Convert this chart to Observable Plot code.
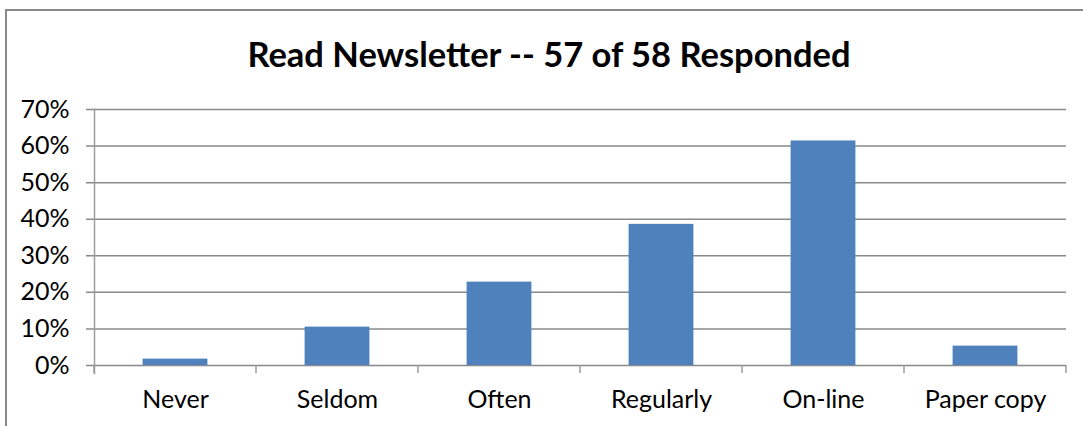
<!DOCTYPE html>
<html><head><meta charset="utf-8">
<script src="https://cdn.jsdelivr.net/npm/d3@7"></script>
<script src="https://cdn.jsdelivr.net/npm/@observablehq/plot@0.6"></script>
<style>
body{margin:0;background:#fff;font-family:Lato, sans-serif;}
#wrap{position:relative;width:1083px;height:426px;overflow:hidden;}
#border{position:absolute;left:5px;top:9px;width:1076px;height:430px;border-left:2px solid #888;border-top:2px solid #888;}
#title{position:absolute;left:0;width:1098px;top:33px;text-align:center;font-weight:bold;font-size:34.5px;line-height:1.2;color:#000;}
#chart{position:absolute;left:0;top:0;}
</style>
</head><body>
<div id="wrap"><div id="border"></div><div id="title">Read Newsletter -- 57 of 58 Responded</div><div id="chart"></div></div>
<script>
const categories = ["Never", "Seldom", "Often", "Regularly", "On-line", "Paper copy"];
const shares = [0.0175, 0.105, 0.228, 0.386, 0.614, 0.053];
const yTicks = [0, 0.1, 0.2, 0.3, 0.4, 0.5, 0.6, 0.7];

const data = categories.map((c, i) => ({category: c, share: shares[i]}));

const boundaryTicks = (index, scales, values, dim) => {
  const x = scales.x;
  const sx = scales.scales ? scales.scales.x : null;
  const step = typeof x.step === "function" ? x.step() : sx.step;
  const bw = typeof x.bandwidth === "function" ? x.bandwidth() : sx.bandwidth;
  const gap = (step - bw) / 2;
  const bounds = categories.map(c => x(c) - gap);
  bounds.push(x(categories[categories.length - 1]) + bw + gap);
  const y0 = dim.height - dim.marginBottom;
  const g = d3.create("svg:g").attr("stroke", "#9d9d9d").attr("stroke-width", 1.5);
  for (const b of bounds) g.append("line").attr("x1", b).attr("x2", b).attr("y1", y0).attr("y2", y0 + 8);
  return g.node();
};

const plot = Plot.plot({
  width: 1083, height: 426,
  marginTop: 109, marginBottom: 61, marginLeft: 94, marginRight: 17,
  style: {fontFamily: "Lato, sans-serif", fontSize: "25px", color: "#000", background: "transparent"},
  x: {domain: categories, paddingInner: 0.6, paddingOuter: 0.3, round: false, label: null},
  y: {domain: [0, 0.7], label: null},
  marks: [
    Plot.ruleY(yTicks, {y: d => d, stroke: "#898989", strokeWidth: 1.5, insetLeft: -8}),
    Plot.barY(data, {x: "category", y: "share", fill: "#4F81BD"}),
    Plot.frame({anchor: "left", stroke: "#9d9d9d", strokeWidth: 1.5, insetBottom: -8}),
    boundaryTicks,
    Plot.axisY(yTicks, {tickSize: 0, tickPadding: 25, tickFormat: d => Math.round(d * 100) + "%", fill: "#000"}),
    Plot.axisX({tickSize: 0, tickPadding: 25, fill: "#000"})
  ]
});
document.getElementById("chart").appendChild(plot);
</script>
</body></html>
